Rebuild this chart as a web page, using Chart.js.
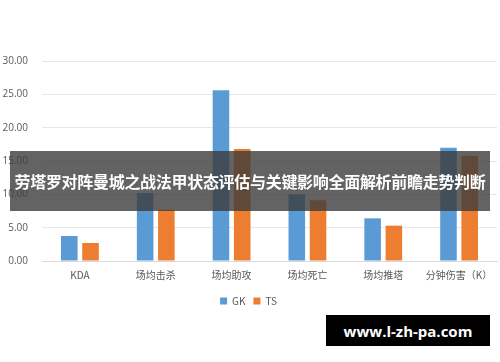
<!DOCTYPE html>
<html><head><meta charset="utf-8">
<script src="https://cdn.jsdelivr.net/npm/chart.js@4/dist/chart.umd.min.js"></script>
<style>
html,body{margin:0;padding:0;background:#fff;}
#wrap{position:relative;width:500px;height:362px;overflow:hidden;}
canvas{position:absolute;left:0;top:0;}
#banner{position:absolute;left:10px;top:151px;width:480px;height:60px;background:rgba(60,60,60,0.8);color:#fff;font:bold 16px "Noto Sans CJK SC",sans-serif;display:flex;align-items:center;justify-content:center;white-space:nowrap;letter-spacing:-0.3px;}
#wm{position:absolute;left:326px;top:315px;width:164px;height:31px;background:#000;color:#fff;font:bold 15px "Open Sans","DejaVu Sans",sans-serif;display:flex;align-items:center;justify-content:center;}
</style></head>
<body><div id="wrap"><canvas id="c" width="500" height="362"></canvas>
<div id="banner">劳塔罗对阵曼城之战法甲状态评估与关键影响全面解析前瞻走势判断</div>
<div id="wm">www.l-zh-pa.com</div></div>
<script>
const categories = ["KDA","场均击杀","场均助攻","场均死亡","场均推塔","分钟伤害（K）"];
const gkValues = [3.75, 10.2, 25.6, 10.0, 6.4, 17.0];
const tsValues = [2.7, 7.7, 16.8, 9.1, 5.3, 15.8];
const seriesNames = ["GK","TS"];
const yTicks = {min:0, max:30, step:5};

new Chart(document.getElementById('c'), {
  type:'bar',
  data:{labels:categories, datasets:[
    {label:seriesNames[0], data:gkValues, backgroundColor:'#5b9bd5', categoryPercentage:0.56, barPercentage:0.78},
    {label:seriesNames[1], data:tsValues, backgroundColor:'#ed7d31', categoryPercentage:0.56, barPercentage:0.78}
  ]},
  options:{
    responsive:false, animation:false,
    layout:{padding:{top:61,right:3,bottom:46,left:0}},
    plugins:{
      legend:{position:'bottom', labels:{boxWidth:7, boxHeight:7, padding:8, color:'#595959', font:{size:10, family:'"Noto Sans CJK SC", sans-serif'}}},
      tooltip:{enabled:false}
    },
    scales:{
      x:{grid:{display:false}, border:{display:true,color:'#d9d9d9'}, afterFit:(s)=>{s.height+=7;}, ticks:{color:'#595959', font:{size:10, family:'"Noto Sans CJK SC", sans-serif'}, maxRotation:0, padding:0}},
      y:{min:yTicks.min, max:yTicks.max, grid:{color:'#e6e6e6', drawTicks:false}, border:{display:false},
         afterFit:(s)=>{s.width=42;},
         ticks:{stepSize:yTicks.step, color:'#595959', padding:14, font:{size:10, family:'"Open Sans", sans-serif'}, callback:(v)=>v.toFixed(2)}}
    }
  }
});
</script></body></html>
